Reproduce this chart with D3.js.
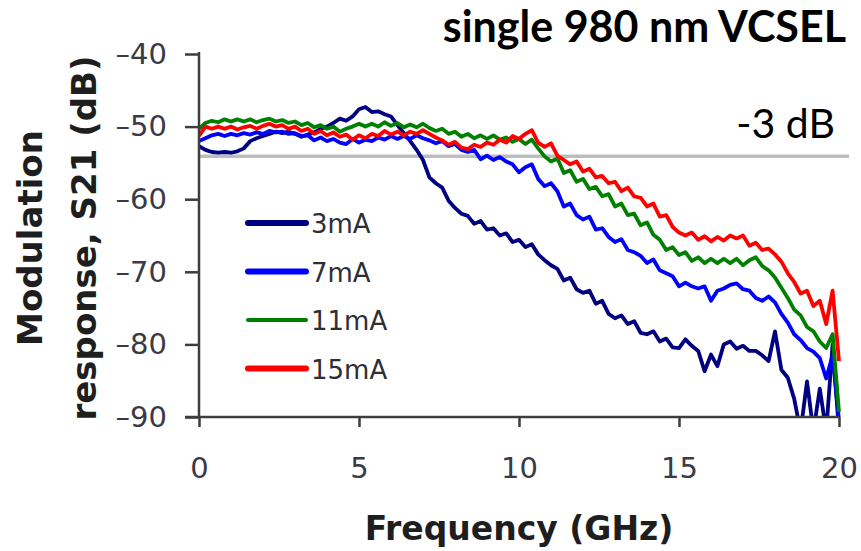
<!DOCTYPE html>
<html>
<head>
<meta charset="utf-8">
<script src="https://cdn.jsdelivr.net/npm/d3@7"></script>
<style>
  body { margin: 0; background: #ffffff; }
  svg { display: block; }
</style>
</head>
<body>
<svg id="chart" width="861" height="551"></svg>
<script>
// Frequency grid of the measured S21 traces (GHz)
const freqGHz = [
  0, 0.2, 0.4, 0.6, 0.8, 1, 1.2, 1.4, 1.6, 1.8,
  2, 2.2, 2.4, 2.6, 2.8, 3, 3.2, 3.4, 3.6, 3.8,
  4, 4.2, 4.4, 4.6, 4.8, 5, 5.2, 5.4, 5.6, 5.8,
  6, 6.2, 6.4, 6.6, 6.8, 7, 7.2, 7.4, 7.6, 7.8,
  8, 8.2, 8.4, 8.6, 8.8, 9, 9.2, 9.4, 9.6, 9.8,
  10, 10.2, 10.4, 10.6, 10.8, 11, 11.2, 11.4, 11.6, 11.8,
  12, 12.2, 12.4, 12.6, 12.8, 13, 13.2, 13.4, 13.6, 13.8,
  14, 14.2, 14.4, 14.6, 14.8, 15, 15.2, 15.4, 15.6, 15.8,
  16, 16.2, 16.4, 16.6, 16.8, 17, 17.2, 17.4, 17.6, 17.8,
  18, 18.2, 18.4, 18.6, 18.8, 19, 19.2, 19.4, 19.6, 19.8,
  20
];

// Modulation response S21 (dB) for each bias current
const s21_3mA = [
  -52.7, -53.2, -53.5, -53.6, -53.5, -53.6, -53.4, -53.0, -52.0, -51.6,
  -51.3, -51.0, -50.7, -50.9, -50.7, -51.0, -51.4, -51.1, -50.8, -50.3,
  -50.0, -49.5, -48.9, -49.2, -48.6, -47.6, -47.3, -48.0, -47.9, -48.3,
  -48.6, -49.8, -50.9, -52.0, -53.2, -54.6, -57.0, -57.8, -58.4, -60.2,
  -61.2, -62.0, -62.3, -63.4, -63.0, -64.2, -64.0, -65.0, -64.7, -65.9,
  -65.6, -66.6, -66.2, -67.6, -68.4, -69.1, -69.6, -71.2, -70.8, -72.4,
  -72.9, -72.6, -74.4, -74.0, -75.8, -76.4, -76.0, -77.2, -76.8, -78.4,
  -78.6, -78.2, -79.6, -79.2, -80.4, -80.5, -79.3, -80.2, -80.9, -83.7,
  -81.4, -83.0, -80.0, -79.6, -80.6, -80.2, -80.9, -80.9, -81.5, -82.3,
  -78.2, -83.5, -84.6, -87.5, -92.0, -85.1, -92.0, -86.1, -92.0, -80.0,
  -92.0
];
const s21_7mA = [
  -52.0, -51.6, -51.2, -51.0, -51.3, -51.0, -51.2, -50.9, -51.1, -50.8,
  -51.0, -50.6, -50.8, -50.7, -51.0, -50.9, -51.3, -51.2, -51.9, -51.5,
  -52.0, -51.7, -52.2, -52.4, -51.7, -52.2, -51.8, -52.0, -51.5, -51.8,
  -51.3, -51.7, -51.3, -51.7, -51.2, -51.6, -51.9, -52.3, -52.0, -52.7,
  -52.4, -53.2, -53.5, -53.2, -54.5, -54.0, -54.6, -54.2, -54.8, -55.2,
  -56.3, -55.6, -55.2, -57.2, -58.2, -57.8, -58.9, -61.0, -60.6, -62.2,
  -62.8, -62.4, -64.2, -64.0, -65.2, -65.9, -65.5, -67.0, -67.3, -67.8,
  -68.8, -68.3, -69.8, -70.2, -70.6, -72.0, -71.5, -72.0, -72.3, -72.0,
  -74.0, -72.6, -72.3, -71.8, -71.6, -72.4, -72.6, -73.6, -74.0, -73.4,
  -74.2, -75.8, -77.0, -78.6, -79.4, -80.5, -81.0, -81.9, -84.7, -81.5,
  -90.5
];
const s21_11mA = [
  -50.3, -49.5, -49.2, -49.4, -49.0, -49.3, -49.0, -49.3, -49.0, -49.4,
  -49.1, -48.9, -49.3, -49.1, -49.5, -49.3, -49.8, -49.5, -50.1, -49.8,
  -50.3, -50.0, -50.7, -50.3, -50.0, -49.6, -50.0, -49.6, -50.0, -49.4,
  -49.9, -49.5, -50.1, -49.7, -50.1, -49.6, -50.2, -50.6, -50.3, -51.0,
  -50.7, -51.4, -51.0, -51.6, -51.2, -51.7, -51.2, -51.8, -51.5, -52.1,
  -51.7, -52.4, -51.8, -53.0, -54.1, -54.8, -54.4, -56.4, -56.0, -57.6,
  -57.2, -58.6, -58.3, -59.6, -59.3, -61.0, -60.6, -62.2, -62.0, -63.6,
  -63.2, -64.9, -65.6, -67.0, -66.6, -67.7, -67.3, -68.5, -68.0, -68.8,
  -68.2, -68.8, -68.2, -68.8, -68.2, -69.1, -68.4, -68.0, -69.2, -69.8,
  -70.8, -72.2, -73.6, -75.2, -76.0, -77.6, -78.2, -79.6, -80.5, -78.6,
  -89.3
];
const s21_15mA = [
  -51.3, -50.0, -50.3, -50.0, -50.3, -50.0, -50.4, -50.1, -49.9, -50.3,
  -49.9, -49.6, -50.0, -49.8, -50.3, -50.0, -50.6, -50.3, -51.0, -50.6,
  -51.2, -50.8, -51.4, -51.1, -51.8, -51.2, -51.6, -51.0, -51.3, -50.6,
  -51.1, -50.7, -51.2, -50.7, -51.0, -50.5, -51.0, -51.5, -51.9, -52.5,
  -52.1, -52.9, -53.1, -52.5, -52.8, -52.2, -52.5, -51.8, -52.2, -51.3,
  -51.7, -51.0, -50.5, -52.2, -52.8, -52.3, -54.0, -54.6, -55.2, -54.8,
  -56.2, -55.8, -57.0, -56.8, -57.8, -57.6, -58.9, -58.4, -59.6, -59.8,
  -61.0, -60.6, -62.4, -62.2, -63.8, -64.6, -65.0, -64.6, -65.6, -65.1,
  -65.8, -65.2, -65.7, -65.0, -65.4, -65.0, -66.4, -66.0, -67.0, -66.8,
  -67.6, -68.6, -70.2, -71.4, -73.0, -72.6, -74.7, -74.0, -77.2, -72.6,
  -82.3
];

const seriesNames  = ["3mA", "7mA", "11mA", "15mA"];
const seriesValues = [s21_3mA, s21_7mA, s21_11mA, s21_15mA];
const seriesColors = ["#000080", "#0000ff", "#008000", "#ff0000"];
const legendWidths = [6, 6, 4, 6];

const xTicks = [0, 5, 10, 15, 20];
const yTicks = [-40, -50, -60, -70, -80, -90];
const cutoffLevel = -54.1;   // -3 dB reference level

const titleText = "single 980 nm VCSEL";
const cutoffText = "-3 dB";
const xTitle = "Frequency (GHz)";
const yTitleLines = ["Modulation", "response, S21 (dB)"];

// ---------- drawing ----------
const svg = d3.select("#chart");
const plot = { left: 199, right: 839, top: 54, bottom: 417 };

const x = d3.scaleLinear().domain([0, 20]).range([plot.left, plot.right]);
const y = d3.scaleLinear().domain([-90, -40]).range([plot.bottom, plot.top]);

svg.append("defs").append("clipPath").attr("id", "plotClip")
  .append("rect")
  .attr("x", plot.left).attr("y", plot.top - 10)
  .attr("width", plot.right - plot.left + 2)
  .attr("height", plot.bottom - plot.top + 10);

const axisColor = "#3d3d3d";
const labelColor = "#3a3a46";
const tickFont = "DejaVu Sans, Verdana, sans-serif";

// -3 dB reference line
svg.append("line")
  .attr("x1", x(0)).attr("x2", 849)
  .attr("y1", y(cutoffLevel)).attr("y2", y(cutoffLevel))
  .attr("stroke", "#bdbdbd").attr("stroke-width", 3.5);

// Traces
const line = d3.line()
  .x((d, i) => x(freqGHz[i]))
  .y(d => y(d));

const traces = svg.append("g").attr("clip-path", "url(#plotClip)");
seriesValues.forEach((vals, k) => {
  traces.append("path")
    .datum(vals)
    .attr("d", line)
    .attr("fill", "none")
    .attr("stroke", seriesColors[k])
    .attr("stroke-width", 3.8)
    .attr("stroke-linejoin", "round");
});

// Axes
const yAxis = d3.axisLeft(y).tickValues(yTicks).tickSize(14).tickPadding(18)
  .tickFormat(d => String(d).replace("-", "\u2013"));
const gy = svg.append("g").attr("transform", `translate(${plot.left},0)`).call(yAxis);
gy.select(".domain").attr("stroke", axisColor).attr("stroke-width", 2.5)
  .attr("d", `M0,${plot.top - 2}V${plot.bottom}`);
gy.selectAll(".tick line").attr("stroke", axisColor).attr("stroke-width", 2.5);
gy.selectAll(".tick text")
  .attr("fill", labelColor)
  .style("font-family", tickFont)
  .style("font-size", "29px");

const xAxis = d3.axisBottom(x).tickValues(xTicks).tickSize(10).tickPadding(30)
  .tickFormat(d3.format("d"));
const gx = svg.append("g").attr("transform", `translate(0,${plot.bottom})`).call(xAxis);
gx.select(".domain").attr("stroke", axisColor).attr("stroke-width", 2.5)
  .attr("d", `M${plot.left - 14},0H${plot.right}`);
gx.selectAll(".tick line").attr("stroke", axisColor).attr("stroke-width", 2.5);
gx.selectAll(".tick text")
  .attr("fill", labelColor)
  .style("font-family", tickFont)
  .style("font-size", "29px");

// Axis titles
svg.append("text")
  .attr("x", 519).attr("y", 540)
  .attr("text-anchor", "middle")
  .attr("fill", "#1e1e1e")
  .style("font-family", tickFont)
  .style("font-weight", "bold")
  .style("font-size", "33px")
  .text(xTitle);

const yTitle = svg.append("text")
  .attr("transform", "translate(0,238) rotate(-90)")
  .attr("text-anchor", "middle")
  .attr("fill", "#1e1e1e")
  .style("font-family", tickFont)
  .style("font-weight", "bold")
  .style("font-size", "34px");
yTitleLines.forEach((t, i) => {
  yTitle.append("tspan").attr("x", 0).attr("y", 42 + i * 54).text(t);
});

// Legend
const legend = svg.append("g");
seriesNames.forEach((name, k) => {
  const ly = 223 + k * 48.5;
  legend.append("line")
    .attr("x1", 248).attr("x2", 306)
    .attr("y1", ly).attr("y2", ly)
    .attr("stroke", seriesColors[k])
    .attr("stroke-width", legendWidths[k])
    .attr("stroke-linecap", "round");
  legend.append("text")
    .attr("x", 311).attr("y", ly + 10)
    .attr("fill", "#2e2e36")
    .style("font-family", tickFont)
    .style("font-size", "26px")
    .text(name);
});

// Title and reference-line label
svg.append("text")
  .attr("x", 846).attr("y", 42)
  .attr("text-anchor", "end")
  .attr("fill", "#000")
  .style("font-family", "Lato, 'Open Sans', sans-serif")
  .style("font-weight", "bold")
  .style("font-size", "43px")
  .text(titleText);

svg.append("text")
  .attr("x", 835).attr("y", 138)
  .attr("text-anchor", "end")
  .attr("fill", "#000")
  .style("font-family", "Lato, 'Open Sans', sans-serif")
  .style("font-size", "41px")
  .text(cutoffText);
</script>
</body>
</html>
